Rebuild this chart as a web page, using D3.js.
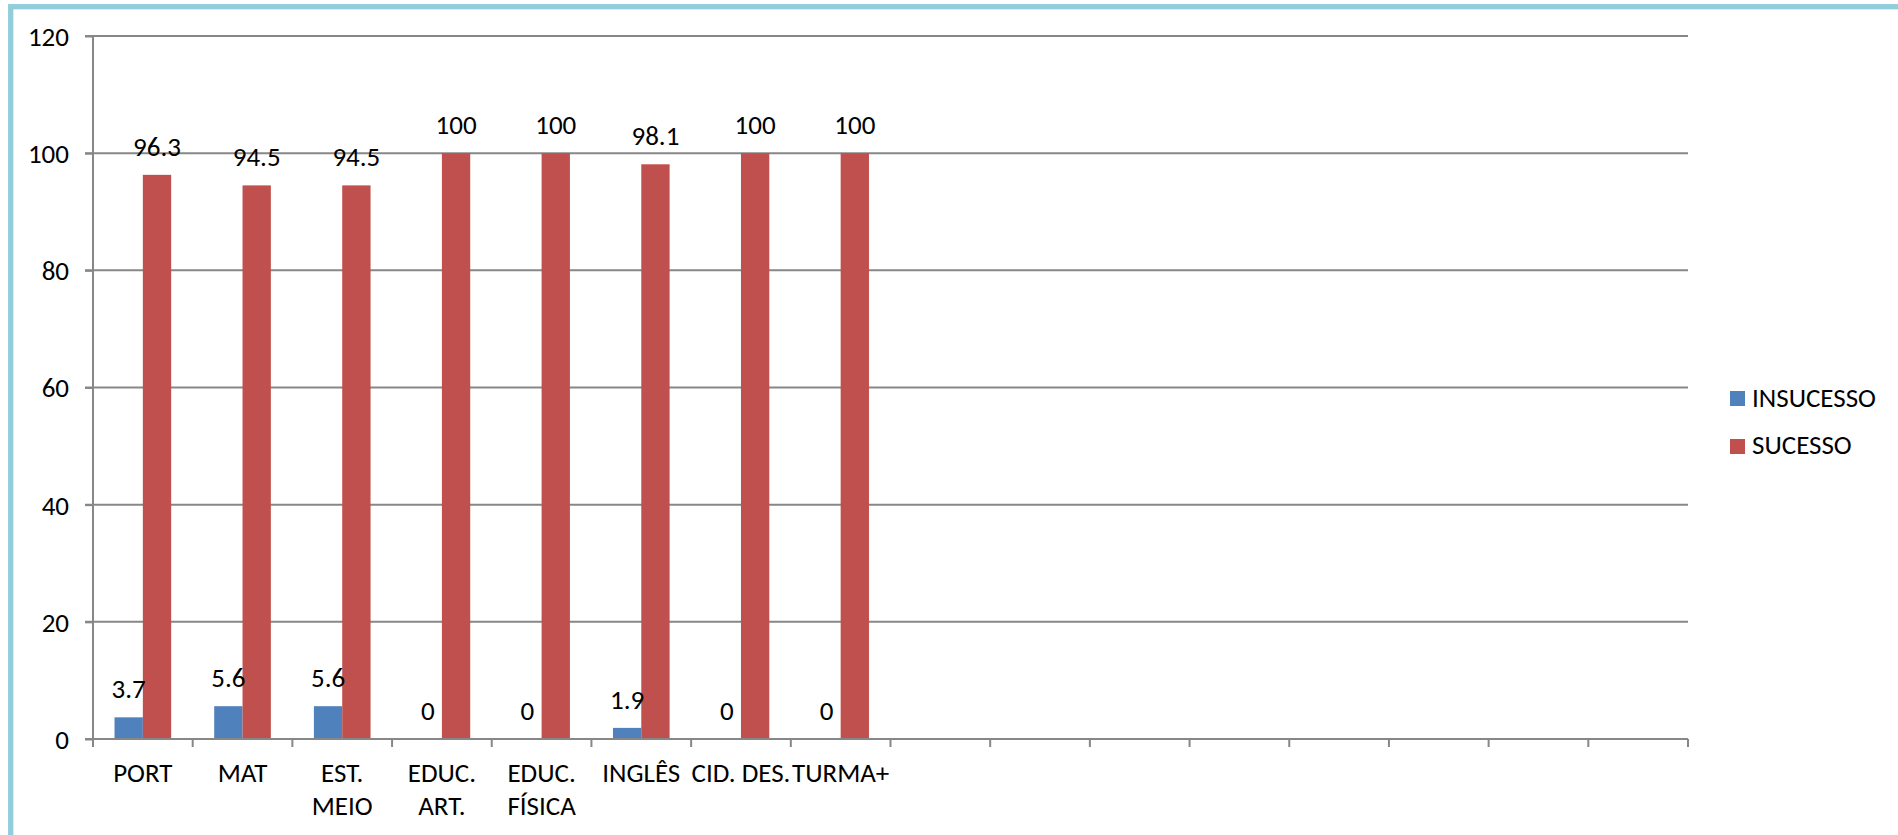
<!DOCTYPE html>
<html>
<head>
<meta charset="utf-8">
<script src="https://cdn.jsdelivr.net/npm/d3@7"></script>
<style>
html,body{margin:0;padding:0;background:#fff;overflow:hidden;}
text{font-family:Carlito,Lato,"Liberation Sans",sans-serif;fill:#000;}
</style>
</head>
<body>
<svg id="chart" width="1898" height="835"></svg>
<script>
const categories = ["PORT","MAT","EST. MEIO","EDUC. ART.","EDUC. FÍSICA","INGLÊS","CID. DES.","TURMA+","","","","","","","",""];
const seriesNames = ["INSUCESSO","SUCESSO"];
const insucesso = [3.7,5.6,5.6,0,0,1.9,0,0];
const sucesso = [96.3,94.5,94.5,100,100,98.1,100,100];
const yTicks = [0,20,40,60,80,100,120];
const colors = ["#4F81BD","#C0504D"];

const svg = d3.select("#chart");
const FS = 27;
const gridColor = "#878787";

// border
svg.append("rect").attr("x",10.7).attr("y",6.7).attr("width",2000).attr("height",1000)
  .attr("fill","none").attr("stroke","#92CDDC").attr("stroke-width",5.3);

const x = d3.scaleBand().domain(d3.range(categories.length)).range([93,1688]).paddingInner(0).paddingOuter(0);
const xs = d3.scaleBand().domain(seriesNames).range([0,x.step()]).paddingInner(0).paddingOuter(0.76);
const y = d3.scaleLinear().domain([0,120]).range([739,36]);

// gridlines
svg.append("g").selectAll("line").data(yTicks.filter(d=>d>0)).join("line")
  .attr("x1",85).attr("x2",1688).attr("y1",d=>y(d)).attr("y2",d=>y(d))
  .attr("stroke",gridColor).attr("stroke-width",2);

// y axis
const yAxis = d3.axisLeft(y).tickValues(yTicks).tickSize(8).tickPadding(16);
const gy = svg.append("g").attr("transform","translate(93,0)").call(yAxis);
gy.select(".domain").attr("stroke",gridColor).attr("stroke-width",2).attr("d","M0,"+y(120)+"V"+y(0));
gy.selectAll(".tick line").attr("stroke",gridColor).attr("stroke-width",2);
gy.selectAll(".tick text").attr("font-size",FS).attr("font-family","Carlito,Lato,sans-serif").attr("fill","#000").attr("dy","0.35em");

// bars
const data = categories.map((c,i)=>({i, vals: i < insucesso.length ? [insucesso[i], sucesso[i]] : null})).filter(d=>d.vals);
const groups = svg.append("g").selectAll("g").data(data).join("g")
  .attr("transform",d=>`translate(${x(d.i)},0)`);
groups.selectAll("rect").data(d=>d.vals.map((v,k)=>({v,k}))).join("rect")
  .attr("x",d=>xs(seriesNames[d.k])).attr("width",xs.bandwidth())
  .attr("y",d=>y(d.v)).attr("height",d=>y(0)-y(d.v))
  .attr("fill",d=>colors[d.k]);
groups.selectAll("text").data(d=>d.vals.map((v,k)=>({v,k}))).join("text")
  .attr("x",d=>xs(seriesNames[d.k])+xs.bandwidth()/2).attr("y",d=>y(d.v)-19)
  .attr("text-anchor","middle").attr("font-size",FS).text(d=>d.v);

// x axis
const gx = svg.append("g");
gx.append("line").attr("x1",85).attr("x2",1688).attr("y1",y(0)).attr("y2",y(0))
  .attr("stroke",gridColor).attr("stroke-width",2);
const bounds = d3.range(categories.length+1).map(i=> i<categories.length ? x(i) : x(i-1)+x.step());
gx.selectAll("line.t").data(bounds).join("line").attr("class","t")
  .attr("x1",d=>d).attr("x2",d=>d).attr("y1",y(0)).attr("y2",y(0)+8)
  .attr("stroke",gridColor).attr("stroke-width",2);

// category labels with wrapping
categories.forEach((c,i)=>{
  if(!c) return;
  const t = gx.append("text").attr("text-anchor","middle").attr("font-size",FS)
    .attr("x",x(i)+x.step()/2).attr("y",782);
  t.text(c);
  if(t.node().getComputedTextLength() > x.step()*1.08 && c.includes(" ")){
    t.text(null);
    const parts = c.split(" ");
    parts.forEach((p,k)=>{
      t.append("tspan").attr("x",x(i)+x.step()/2).attr("y",782+k*33).text(p);
    });
  }
});

// legend
const leg = svg.append("g");
seriesNames.forEach((s,k)=>{
  leg.append("rect").attr("x",1730).attr("y",391+k*48).attr("width",15).attr("height",15).attr("fill",colors[k]);
  leg.append("text").attr("x",1752).attr("y",407+k*47).attr("font-size",FS).text(s);
});
</script>
</body>
</html>
